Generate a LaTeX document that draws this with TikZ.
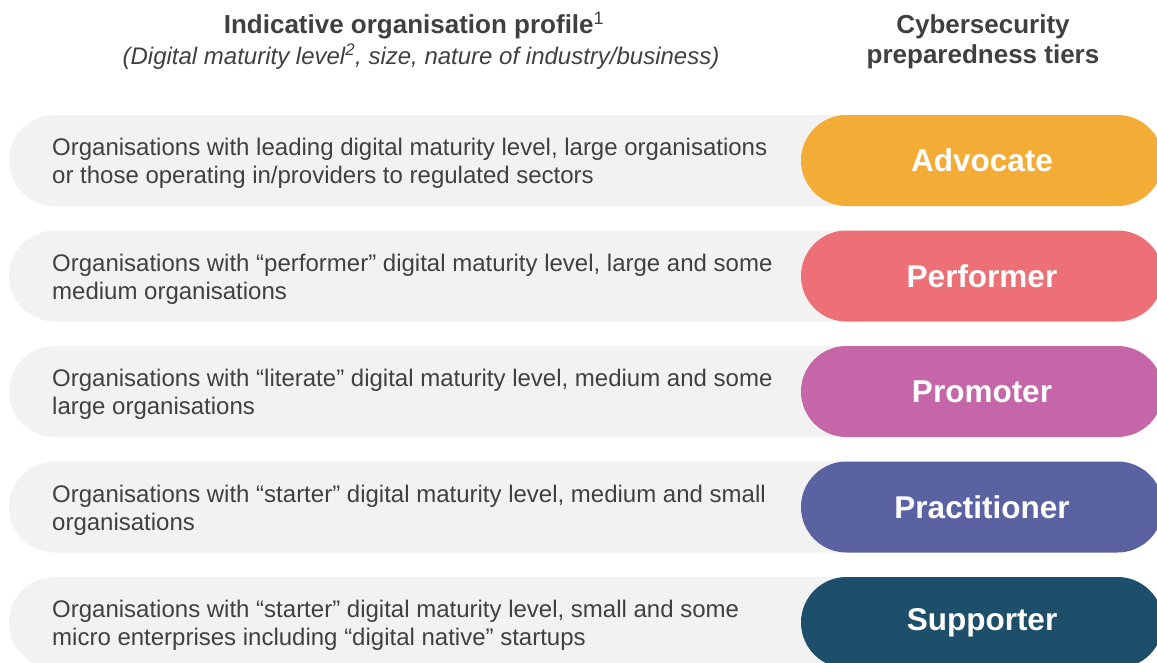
\documentclass[tikz,border=0pt]{standalone}
\usepackage{fontspec}
\setmainfont{Liberation Sans}
\definecolor{txt}{HTML}{404040}
\definecolor{barbg}{HTML}{F2F2F2}
\definecolor{cAdv}{HTML}{F3AC36}
\definecolor{cPerf}{HTML}{EC7075}
\definecolor{cProm}{HTML}{C466A8}
\definecolor{cPrac}{HTML}{5B62A1}
\definecolor{cSupp}{HTML}{1D4F6B}
\tikzset{
  pill/.style={rounded corners=45.5pt, minimum width=362pt, minimum height=91pt, inner sep=0pt,
    text=white, font=\fontsize{31.5}{34}\selectfont\bfseries},
  desc/.style={anchor=west, align=left, inner sep=0pt, text=txt, font=\fontsize{24}{28}\selectfont},
  bar/.style={fill=barbg, rounded corners=45.5pt},
  head/.style={inner sep=0pt, text=txt, align=center}
}
\begin{document}
\begin{tikzpicture}[x=1pt,y=-1pt]
\useasboundingbox (0,0) rectangle (1157,662);
\begin{scope}
\clip (0,0) rectangle (1157,662);
\node[head, font=\fontsize{26}{30}\selectfont\bfseries] (h1) at (414,26) {Indicative organisation profile\textsuperscript{\mdseries\fontsize{18}{20}\selectfont 1}};
\node[head, font=\fontsize{24}{28}\selectfont\itshape] (h2) at (421,57) {(Digital maturity level\textsuperscript{2}, size, nature of industry/business)};
\node[head, font=\fontsize{26}{30}\selectfont\bfseries] (h3) at (983,42) {Cybersecurity\\preparedness tiers};

\foreach \i/\lab/\col/\txt in {
  0/Advocate/cAdv/{Organisations with leading digital maturity level, large organisations\\or those operating in/providers to regulated sectors},
  1/Performer/cPerf/{Organisations with “performer” digital maturity level, large and some\\medium organisations},
  2/Promoter/cProm/{Organisations with “literate” digital maturity level, medium and some\\large organisations},
  3/Practitioner/cPrac/{Organisations with “starter” digital maturity level, medium and small\\organisations},
  4/Supporter/cSupp/{Organisations with “starter” digital maturity level, small and some\\micro enterprises including “digital native” startups}}{
  \pgfmathsetmacro{\top}{115+115.5*\i}
  \pgfmathsetmacro{\mid}{\top+45.5}
  \fill[bar] (9,\top) rectangle (900,\top+91);
  \node[desc] (d\i) at (52,\mid+3) {\txt};
  \node[pill, fill=\col] (t\i) at (982,\mid) {\lab};
}
\end{scope}
\end{tikzpicture}
\end{document}
